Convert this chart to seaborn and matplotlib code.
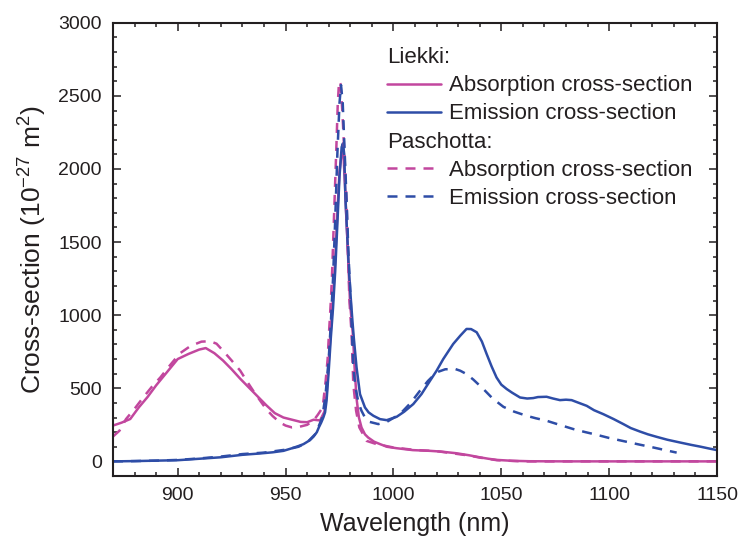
import numpy as np
import pandas as pd
import matplotlib
matplotlib.use("Agg")
import matplotlib.pyplot as plt
import seaborn as sns
from matplotlib.ticker import MultipleLocator

# ---------------- data ----------------
liekki_abs_wl = [870, 874, 878, 882, 886, 890, 895, 900, 905, 910, 913, 917, 921, 925, 929,
                 933, 937, 941, 945, 949, 953, 957, 960, 963, 966, 968, 969, 970, 971, 972,
                 973, 974, 975, 976, 976.7, 977.5, 978.6, 979.9, 981.2, 982, 982.9, 984,
                 985.2, 986.8, 988.3, 991, 993.8, 997, 1001.5, 1009, 1017, 1022, 1029, 1035,
                 1040, 1044, 1048, 1055, 1063, 1080, 1100, 1150]
liekki_abs_val = [245, 265, 290, 370, 440, 520, 610, 700, 735, 765, 775, 740, 690, 630, 565,
                  505, 445, 385, 330, 300, 285, 270, 268, 285, 280, 340, 450, 680, 900, 1120,
                  1380, 1700, 1980, 2110, 2140, 1900, 1530, 1080, 870, 640, 430, 300,
                  232, 185, 163, 135, 118, 100, 90, 77, 72, 67, 56, 42,
                  28, 18, 10, 4, 1, 0, 0, 0]

liekki_em_wl = [870, 880, 890, 900, 910, 920, 930, 938, 944, 949, 953, 956, 958.3, 961.3, 963,
                964.5, 965.5, 966.5, 967.5, 968.3, 969, 970, 971, 972, 973, 974, 975, 976,
                976.6, 977.2, 977.8, 978.6, 979.4, 980.2, 981, 981.6, 982.9, 984.5, 986.8,
                988.5, 990.7, 993.8, 996.9, 1001.5, 1005, 1009.2, 1013, 1017, 1020, 1023.1,
                1027.7, 1031, 1033.9, 1036, 1038.6, 1041, 1043.2, 1045.5, 1047.8, 1050,
                1052.5, 1055, 1058.7, 1062, 1064.8, 1067, 1071, 1074, 1077.2, 1080, 1082.6,
                1086, 1089.6, 1093, 1097.3, 1102, 1106.6, 1110, 1114.3, 1118, 1122, 1127,
                1132.9, 1138, 1142.2, 1146, 1150]
liekki_em_val = [0, 2, 5, 8, 18, 28, 45, 54, 62, 72, 90, 105, 118, 145, 170,
                 200, 235, 265, 300, 335, 415, 620, 850, 1050, 1300, 1620, 1950, 2150,
                 2175, 2100, 1780, 1540, 1300, 1120, 960, 850, 643, 460, 369,
                 335, 312, 289, 282, 305, 340, 392, 460, 552, 620, 700,
                 803, 860, 906, 905, 883, 820, 735, 650, 574, 525,
                 495, 470, 437, 430, 433, 440, 442, 430, 419, 422, 419,
                 400, 380, 350, 323, 290, 255, 228, 204, 185, 168, 148,
                 129, 113, 101, 89, 77]

pasch_abs_wl = [870, 873, 876, 880, 884, 888, 892, 896, 901, 906, 911, 915, 918, 921, 925,
                929, 932, 935, 938, 941, 944, 947.4, 950, 953, 956, 960, 963, 965, 967.2,
                968.6, 969.5, 970.1, 971, 971.5, 972.5, 973.5, 974.2, 974.8, 975.5, 976.3,
                977.2, 978.3, 978.8, 979.6, 980.6, 981.4, 982.7, 984.2, 987.6, 992.2,
                1000, 1010, 1020, 1030, 1035, 1040, 1048, 1060, 1080, 1150]
pasch_abs_val = [170, 210, 289, 360, 437, 510, 575, 650, 739, 790, 819, 822, 805, 757, 690,
                 620, 550, 483, 420, 358, 310, 266, 245, 232, 235, 250, 280, 320, 369,
                 552, 700, 872, 1100, 1260, 1694, 2128, 2448, 2600, 2580, 2400,
                 2128, 1763, 1489, 1100, 872, 529, 346, 232, 140, 118,
                 95, 78, 70, 50, 40, 26, 8, 0, 0, 0]

pasch_em_wl = [870, 880, 890, 900, 910, 920, 930, 940, 950, 956, 960, 964, 967, 968.5, 970,
               971, 972, 973, 974, 975, 975.7, 976.5, 977.3, 978.3, 979.2, 980.2, 980.8,
               981.4, 982.5, 983.8, 985.2, 986.8, 989, 993, 996.9, 1003, 1008, 1012.3, 1016,
               1020, 1024, 1028.6, 1031, 1033.9, 1037, 1041.7, 1046, 1051, 1056, 1061.7,
               1066, 1071, 1077, 1083.4, 1089, 1094.2, 1100, 1108.1, 1114, 1120.5, 1126,
               1131.3]
pasch_em_val = [0, 2, 5, 10, 20, 33, 50, 60, 80, 100, 130, 190, 300, 450, 700,
                950, 1250, 1650, 2100, 2450, 2574, 2450, 2150, 1780, 1400, 1100, 870,
                643, 500, 400, 346, 300, 270, 255, 270, 323, 400, 483, 550,
                609, 630, 632, 620, 597, 560, 495, 430, 373, 340, 312,
                295, 278, 250, 221, 200, 182, 160, 134, 115, 95, 77,
                60]

x_ticks = [900, 950, 1000, 1050, 1100, 1150]
y_ticks = [0, 500, 1000, 1500, 2000, 2500, 3000]

# ---------------- style ----------------
sns.set_style("ticks")
plt.rcParams['font.family'] = ['Liberation Sans', 'DejaVu Sans']
plt.rcParams['mathtext.fontset'] = 'custom'
plt.rcParams['mathtext.rm'] = 'Liberation Sans'
plt.rcParams['mathtext.it'] = 'Liberation Sans:italic'
plt.rcParams['mathtext.bf'] = 'Liberation Sans:bold'

MAG = '#C2479E'
BLUE = '#2E4DA7'
TXT = '#231F20'
DASH = (0, (4, 3.2))

fig = plt.figure(figsize=(7.41, 5.49), dpi=100)
ax = fig.add_axes([113 / 741, 1 - 476 / 549, (717 - 113) / 741, (476 - 22.8) / 549])

series = [
    (liekki_abs_wl, liekki_abs_val, MAG, '-', 'la'),
    (liekki_em_wl, liekki_em_val, BLUE, '-', 'le'),
    (pasch_abs_wl, pasch_abs_val, MAG, DASH, 'pa'),
    (pasch_em_wl, pasch_em_val, BLUE, DASH, 'pe'),
]
for wl, val, col, ls, lab in series:
    df = pd.DataFrame({'wl': wl, 'val': val})
    sns.lineplot(data=df, x='wl', y='val', ax=ax, color=col, linestyle=ls,
                 linewidth=1.8, estimator=None, sort=False, label=lab)

handles, labels = ax.get_legend_handles_labels()
hmap = dict(zip(labels, handles))

ax.set_xlim(870, 1150)
ax.set_ylim(-100, 3000)
ax.set_xticks(x_ticks)
ax.set_yticks(y_ticks)
ax.xaxis.set_minor_locator(MultipleLocator(10))
ax.yaxis.set_minor_locator(MultipleLocator(100))
ax.tick_params(which='both', direction='in', top=True, right=True, color=TXT,
               width=1.1)
ax.tick_params(which='major', length=5.5, labelsize=14, labelcolor=TXT, pad=8)
ax.tick_params(which='minor', length=3.2)
for s in ax.spines.values():
    s.set_linewidth(1.5)
    s.set_color(TXT)

ax.set_xlabel('Wavelength (nm)', fontsize=18, color=TXT, labelpad=6)
ax.set_ylabel('Cross-section (10$^{-27}$ m$^{2}$)', fontsize=19, color=TXT, labelpad=7)

common = dict(loc='upper left', frameon=False, fontsize=16, title_fontsize=16,
              handlelength=2.45, handletextpad=0.35, labelspacing=0.32, borderpad=0,
              borderaxespad=0, alignment='left', labelcolor=TXT)
leg1 = ax.legend(handles=[hmap['la'], hmap['le']],
                 labels=['Absorption cross-section', 'Emission cross-section'],
                 title='Liekki:', bbox_to_anchor=(0.4536, 0.946), **common)
leg1.get_title().set_color(TXT)
ax.add_artist(leg1)
leg2 = ax.legend(handles=[hmap['pa'], hmap['pe']],
                 labels=['Absorption cross-section', 'Emission cross-section'],
                 title='Paschotta:', bbox_to_anchor=(0.4536, 0.760), **common)
leg2.get_title().set_color(TXT)

fig.savefig('out.png', dpi=100)
